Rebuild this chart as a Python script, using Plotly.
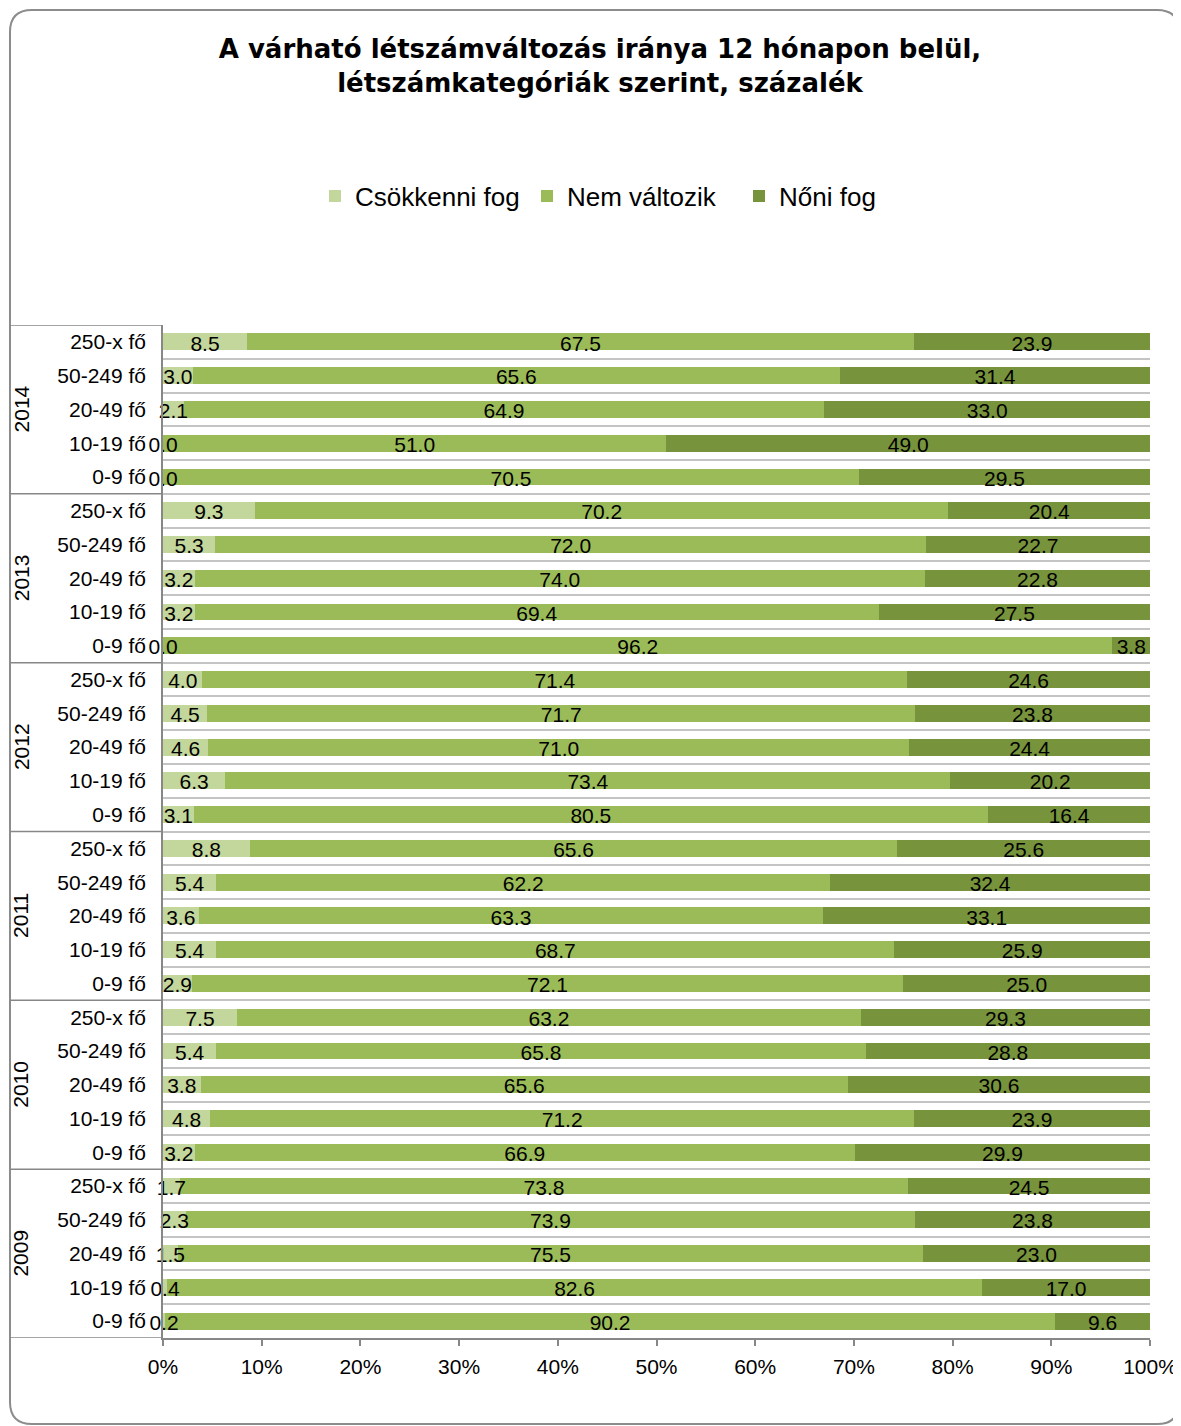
import plotly.graph_objects as go

years = ["2014", "2013", "2012", "2011", "2010", "2009"]
sizes = ["250-x fő", "50-249 fő", "20-49 fő", "10-19 fő", "0-9 fő"]

# rows ordered top-to-bottom: for each year, sizes in order above
csokken = [8.5, 3.0, 2.1, 0.0, 0.0,
           9.3, 5.3, 3.2, 3.2, 0.0,
           4.0, 4.5, 4.6, 6.3, 3.1,
           8.8, 5.4, 3.6, 5.4, 2.9,
           7.5, 5.4, 3.8, 4.8, 3.2,
           1.7, 2.3, 1.5, 0.4, 0.2]
nem_valtozik = [67.5, 65.6, 64.9, 51.0, 70.5,
                70.2, 72.0, 74.0, 69.4, 96.2,
                71.4, 71.7, 71.0, 73.4, 80.5,
                65.6, 62.2, 63.3, 68.7, 72.1,
                63.2, 65.8, 65.6, 71.2, 66.9,
                73.8, 73.9, 75.5, 82.6, 90.2]
noni = [23.9, 31.4, 33.0, 49.0, 29.5,
        20.4, 22.7, 22.8, 27.5, 3.8,
        24.6, 23.8, 24.4, 20.2, 16.4,
        25.6, 32.4, 33.1, 25.9, 25.0,
        29.3, 28.8, 30.6, 23.9, 29.9,
        24.5, 23.8, 23.0, 17.0, 9.6]

series_names = ["Csökkenni fog", "Nem változik", "Nőni fog"]
colors = ["#c3d69b", "#9bbb59", "#77933c"]

n = len(csokken)
ypos = list(range(n))
ticktext = [sizes[i % len(sizes)] for i in range(n)]

FONT = "Liberation Sans, Arial, sans-serif"
OFF = 8  # page body margin
W, H = 1181 - OFF, 1426 - OFF
# plot area in page pixels
L, R, T, B = 163, 1150, 325, 1338
l, r, t, b = L - OFF, R - OFF, T - OFF, B - OFF
TEXT_SHIFT = 0.1  # data labels sit slightly below bar centre


def px2x(px):
    return (px - L) / (R - L)


def px2y(py):
    return (B - py) / (B - T)


fig = go.Figure()
series = [csokken, nem_valtozik, noni]
for name, vals, col in zip(series_names, series, colors):
    fig.add_trace(go.Bar(
        y=ypos, x=vals, orientation="h", name=name,
        marker=dict(color=col, line=dict(width=0)),
        hoverinfo="skip",
    ))

# data labels centred in each segment (normalised like the 100% stack)
tx, ty, tt = [], [], []
for i in range(n):
    tot = csokken[i] + nem_valtozik[i] + noni[i]
    cum = 0.0
    for vals in series:
        v = vals[i]
        tx.append((cum + v / 2) / tot)
        ty.append(i + TEXT_SHIFT)
        tt.append(f"{v:.1f}")
        cum += v
fig.add_trace(go.Scatter(
    x=tx, y=ty, text=tt, mode="text", textposition="middle center",
    textfont=dict(family=FONT, size=21, color="black"),
    showlegend=False, cliponaxis=False, hoverinfo="skip",
))

shapes = []
grey = "#878787"
nyear = len(years)
per = len(sizes)
for k in range(nyear + 1):
    yb = k * per - 0.5
    shapes.append(dict(type="line", xref="paper", yref="y",
                       x0=px2x(10), x1=0, y0=yb, y1=yb,
                       line=dict(color=grey, width=1.5)))

# rounded outer frame
fl, ft, fr, fb, rad = 10, 10, 1179, 1424, 22
def P(px, py):
    return f"{px2x(px):.5f},{px2y(py):.5f}"
path = (f"M {P(fl, ft + rad)} Q {P(fl, ft)} {P(fl + rad, ft)} "
        f"L {P(fr - rad, ft)} Q {P(fr, ft)} {P(fr, ft + rad)} "
        f"L {P(fr, fb - rad)} Q {P(fr, fb)} {P(fr - rad, fb)} "
        f"L {P(fl + rad, fb)} Q {P(fl, fb)} {P(fl, fb - rad)} Z")
shapes.append(dict(type="path", xref="paper", yref="paper", path=path,
                   line=dict(color="#8c8c8c", width=2), layer="below"))

annotations = []
for k, yr in enumerate(years):
    annotations.append(dict(
        x=px2x(21), xref="paper", y=k * per + (per - 1) / 2, yref="y",
        text=yr, textangle=-90, showarrow=False,
        font=dict(family=FONT, size=21, color="black"),
        xanchor="center", yanchor="middle"))

fig.update_layout(
    width=W, height=H,
    margin=dict(l=l, r=W - r, t=t, b=H - b, autoexpand=False),
    paper_bgcolor="white", plot_bgcolor="white",
    barmode="stack", barnorm="fraction", bargap=0.5,
    font=dict(family=FONT, size=21, color="black"),
    title=dict(
        text="<b>A várható létszámváltozás iránya 12 hónapon belül,<br>létszámkategóriák szerint, százalék</b>",
        x=(600 - OFF) / W, xref="container", xanchor="center",
        y=1 - (58 - OFF) / H, yref="container", yanchor="middle",
        font=dict(family="DejaVu Sans, Liberation Sans, sans-serif", size=26, color="black")),
    legend=dict(orientation="h", x=px2x(633), xanchor="center",
                y=px2y(196), yanchor="middle",
                entrywidth=167, entrywidthmode="pixels",
                font=dict(family=FONT, size=26, color="black"),
                traceorder="normal", itemclick=False),
    xaxis=dict(range=[0, 1], tickvals=[i / 10 for i in range(11)],
               tickformat=".0%", showgrid=False, zeroline=False,
               showline=True, linecolor=grey, linewidth=1.5,
               ticks="outside", ticklen=6, tickcolor=grey, tickwidth=1.5,
               ticklabelstandoff=3,
               tickfont=dict(family=FONT, size=21, color="black")),
    yaxis=dict(range=[n - 0.5, -0.5], tickmode="array", tickvals=ypos,
               ticktext=ticktext, showgrid=False, zeroline=False,
               showline=True, linecolor=grey, linewidth=1.5,
               ticks="", ticklabelstandoff=11,
               tickfont=dict(family=FONT, size=21, color="black"),
               minor=dict(tick0=0.5, dtick=1, showgrid=True,
                          gridcolor="#c4c4c4", gridwidth=2, ticks="")),
    shapes=shapes, annotations=annotations,
)

fig.write_html("out.html")
